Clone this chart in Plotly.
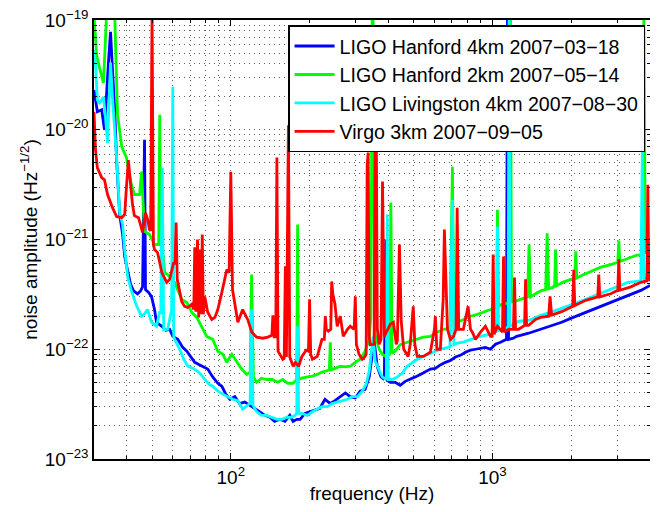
import math
import plotly.graph_objects as go

# ---------------- data (frequency in Hz, amplitude in Hz^-1/2) ----------------
h1_freq = [30.0, 30.9, 32.1, 32.9, 34.1, 34.7, 35.3, 36.0, 36.6, 37.6, 38.6, 39.3, 40.4, 41.4, 42.5,
           44.0, 45.2, 46.0, 46.8, 47.2, 48.5, 49.8, 51.1, 52.0, 54.5, 56.4, 58.4, 60.0, 62.7, 65.5,
           67.9, 70.3, 72.8, 76.1, 78.8, 81.6, 85.3, 89.2, 92.4, 95.7, 99.1, 103.6, 108, 113, 118,
           123, 129, 135, 141, 147, 154, 161, 168, 173, 179, 184, 192, 201, 210, 219, 229, 240, 250,
           262, 274, 286, 299, 312, 326, 338, 347, 353, 363, 375, 386, 391, 396, 407, 425, 444, 464,
           485, 507, 530, 554, 579, 605, 632, 661, 691, 722, 754, 788, 824, 861, 900, 940, 983, 1027,
           1073, 1131, 1141, 1152, 1203, 1236, 1280, 1374, 1528, 1668, 1838, 1991, 2174, 2481, 2832,
           3291, 3690, 4000]
h1_amp = [2.3e-20, 1.46e-20, 1.52e-20, 1.0e-20, 4.3e-20, 7.8e-20, 3.5e-20, 1.52e-20, 5.3e-21, 1.69e-21,
          1.11e-21, 7.0e-22, 5.1e-22, 3.9e-22, 3.4e-22, 3.2e-22, 3.4e-22, 3.7e-22, 8.1e-21, 3.5e-22,
          3.3e-22, 3.0e-22, 2.3e-22, 1.76e-22, 1.62e-22, 1.49e-22, 1.52e-22, 1.31e-22, 1.23e-22, 1.04e-22,
          9.6e-23, 8.6e-23, 7.6e-23, 7.2e-23, 6.9e-23, 6.6e-23, 5.6e-23, 4.9e-23, 4.6e-23, 3.9e-23,
          3.5e-23, 3.7e-23, 3.2e-23, 3.3e-23, 3.1e-23, 2.9e-23, 2.7e-23, 2.5e-23, 2.4e-23, 2.2e-23,
          2.3e-23, 2.2e-23, 2.5e-23, 2.2e-23, 2.3e-23, 2.3e-23, 2.6e-23, 2.7e-23, 2.8e-23, 2.9e-23,
          3.5e-23, 3.2e-23, 3.4e-23, 3.7e-23, 4.0e-23, 3.7e-23, 3.6e-23, 4.15e-23, 4.3e-23, 5.6e-23,
          8.5e-23, 1.19e-22, 6.9e-23, 5.6e-23, 5.3e-23, 1.0e-21, 5.2e-23, 5.0e-23, 5.0e-23, 4.7e-23,
          5.1e-23, 5.3e-23, 5.6e-23, 5.9e-23, 6.2e-23, 6.6e-23, 6.7e-23, 7.2e-23, 7.6e-23, 7.9e-23,
          8.5e-23, 8.8e-23, 9.4e-23, 9.8e-23, 1.0e-22, 1.02e-22, 1.04e-22, 1.0e-22, 1.11e-22, 1.16e-22,
          1.23e-22, 1.0e-19, 1.23e-22, 1.26e-22, 1.31e-22, 1.34e-22, 1.40e-22, 1.52e-22, 1.62e-22,
          1.76e-22, 1.91e-22, 2.08e-22, 2.36e-22, 2.67e-22, 3.1e-22, 3.44e-22, 3.82e-22]

h2_freq = [30.0, 30.7, 31.5, 32.6, 33.5, 36.0, 36.9, 38.3, 39.9, 41.7, 42.8, 44.8, 45.6, 46.2, 46.8,
           48.9, 51.1, 53.0, 53.5, 54.0, 54.9, 55.9, 58.4, 61.0, 62.7, 64.9, 67.9, 70.9, 74.1, 77.4,
           80.9, 85.3, 89.2, 93.2, 96.5, 100.9, 105.4, 110, 115, 118.6, 120, 122, 125.5, 131, 137,
           144, 151, 158, 165, 173, 178.5, 180, 181.6, 187, 196, 205, 214, 223, 234, 238, 240, 242,
           250, 262, 274, 286, 299, 312, 326, 338, 343, 347, 350, 355, 369, 379, 393, 405, 409, 413,
           425, 444, 464, 485, 516, 544, 579, 613, 649, 688, 703, 712, 734, 774, 824, 877, 916, 983,
           1036, 1045, 1054, 1083, 1162, 1172, 1182, 1225, 1280, 1361, 1380, 1398, 1461, 1528, 1597,
           1618, 1640, 1698, 1728, 1743, 1759, 1855, 1991, 2063, 2081, 2099, 2193, 2374, 2594, 2832,
           3013, 3040, 3067, 3233, 3531, 3740, 3789, 3839, 3960, 4000]
h2_amp = [1.1e-19, 4.8e-20, 3.66e-20, 2.67e-20, 1.1e-19, 1.1e-19, 1.37e-20, 7.0e-21, 5.6e-21, 3.16e-21,
          2.57e-21, 2.57e-21, 4.15e-21, 2.2e-21, 1.19e-21, 1.11e-21, 9.0e-22, 9.0e-22, 1.37e-20, 8.8e-22,
          7.8e-22, 5.0e-22, 4.6e-22, 4.07e-22, 3.5e-22, 2.85e-22, 2.67e-22, 2.17e-22, 1.95e-22, 1.62e-22,
          1.31e-22, 1.23e-22, 9.6e-23, 9.0e-23, 7.6e-23, 9.0e-23, 7.6e-23, 6.6e-23, 5.9e-23, 6.2e-23,
          4.8e-22, 5.6e-23, 5.0e-23, 5.45e-23, 5.3e-23, 5.3e-23, 5.0e-23, 5.3e-23, 4.9e-23, 4.9e-23,
          5.3e-23, 1.37e-21, 5.3e-23, 5.45e-23, 5.6e-23, 5.7e-23, 5.9e-23, 6.2e-23, 6.4e-23, 6.5e-23,
          1.16e-22, 6.5e-23, 6.7e-23, 7.0e-23, 6.9e-23, 7.0e-23, 7.6e-23, 8.1e-23, 9.6e-23, 1.23e-22,
          2.0e-22, 1.0e-19, 1.0e-19, 1.4e-22, 1.0e-22, 9.0e-23, 8.5e-23, 9.0e-23, 2.17e-21, 9.2e-23,
          9.6e-23, 1.1e-22, 1.14e-22, 1.18e-22, 1.23e-22, 1.29e-22, 1.31e-22, 1.43e-22, 1.52e-22, 1.55e-22,
          4.6e-21, 1.6e-22, 1.76e-22, 1.87e-22, 2.0e-22, 2.08e-22, 2.17e-22, 2.3e-22, 2.4e-22, 1.87e-21,
          2.45e-22, 2.57e-22, 2.65e-22, 1.0e-19, 2.7e-22, 2.73e-22, 2.85e-22, 3.0e-22, 9.0e-22, 3.0e-22,
          3.2e-22, 3.4e-22, 3.5e-22, 1.14e-21, 3.55e-22, 3.66e-22, 3.8e-22, 8.1e-22, 3.8e-22, 4.07e-22,
          4.33e-22, 4.4e-22, 7.8e-22, 4.45e-22, 4.7e-22, 5.1e-22, 5.6e-22, 5.9e-22, 6.2e-22, 9.8e-22,
          6.3e-22, 6.6e-22, 7.15e-22, 7.3e-22, 1.1e-19, 7.5e-22, 7.9e-22, 8.1e-22]

l1_freq = [30.0, 30.4, 30.9, 31.5, 32.1, 32.6, 33.2, 33.8, 34.7, 35.3, 36.6, 37.6, 38.6, 39.3, 40.4,
           41.7, 43.6, 45.6, 46.8, 48.0, 49.8, 52.0, 53.5, 54.0, 54.7, 55.4, 57.4, 59.4, 60.0, 60.5,
           61.0, 63.8, 66.1, 68.5, 71.6, 74.1, 76.8, 79.5, 82.4, 85.3, 89.2, 93.2, 97.4, 101.8, 106.4,
           111, 116, 118.5, 120, 121.5, 125.5, 131, 137, 144, 150, 157, 164, 171, 176, 178.5, 180,
           181.6, 187, 196, 205, 214, 223, 234, 244, 255, 267, 279, 291, 305, 318, 329, 338, 344, 350,
           356, 369, 379, 393, 396, 400, 414, 433, 452, 472, 494, 516, 544, 579, 632, 688, 703, 712,
           734, 774, 824, 877, 932, 983, 1036, 1045, 1054, 1092, 1147, 1157, 1167, 1203, 1258, 1374,
           1528, 1668, 1838, 1991, 2174, 2481, 2832, 3291, 3690, 3740, 3789, 3960, 4000]
l1_amp = [5.3e-20, 3.9e-20, 1.87e-20, 1.76e-20, 1.87e-20, 1.99e-20, 1.29e-20, 7.6e-21, 4.1e-20, 1.95e-20,
          5.6e-21, 1.76e-21, 1.37e-21, 8.1e-22, 4.5e-22, 3.4e-22, 2.5e-22, 2.0e-22, 2.1e-22, 2.3e-22,
          1.76e-22, 1.62e-22, 2.2e-22, 2.1e-22, 4.5e-21, 1.5e-22, 1.52e-22, 2.3e-22, 2.46e-20, 1.3e-22,
          1.23e-22, 1.0e-22, 8.1e-23, 7.0e-23, 6.7e-23, 6.4e-23, 5.9e-23, 5.3e-23, 4.8e-23, 4.6e-23,
          4.15e-23, 3.9e-23, 3.7e-23, 3.5e-23, 3.4e-23, 2.85e-23, 3.1e-23, 3.2e-23, 2.3e-22, 3.1e-23,
          2.7e-23, 2.5e-23, 2.5e-23, 2.4e-23, 2.3e-23, 2.3e-23, 2.4e-23, 2.4e-23, 2.5e-23, 2.6e-23,
          1.62e-22, 2.6e-23, 2.6e-23, 2.5e-23, 2.7e-23, 2.85e-23, 3.0e-23, 3.0e-23, 3.2e-23, 3.3e-23,
          3.4e-23, 3.5e-23, 3.7e-23, 3.7e-23, 4.15e-23, 4.8e-23, 6.3e-23, 9.0e-23, 1.31e-22, 7.8e-23,
          6.3e-23, 5.6e-23, 5.3e-23, 1.69e-21, 5.3e-23, 5.3e-23, 5.6e-23, 6.05e-23, 7.0e-23, 7.5e-23,
          8.1e-23, 8.6e-23, 9.2e-23, 1.0e-22, 1.05e-22, 2.3e-21, 1.1e-22, 1.14e-22, 1.16e-22, 1.23e-22,
          1.29e-22, 1.34e-22, 1.37e-22, 1.45e-22, 1.31e-21, 1.48e-22, 1.52e-22, 1.59e-22, 1.0e-19, 1.6e-22,
          1.69e-22, 1.80e-22, 1.83e-22, 2.04e-22, 2.17e-22, 2.36e-22, 2.5e-22, 2.73e-22, 3.1e-22, 3.5e-22,
          4.07e-22, 4.2e-22, 6.6e-21, 4.3e-22, 4.7e-22, 4.7e-22]

v1_freq = [30.0, 30.4, 30.9, 32.1, 32.9, 33.8, 35.3, 36.6, 38.3, 39.3, 39.9, 40.6, 41.4, 42.1, 42.8,
           44.4, 46.0, 47.2, 48.0, 48.9, 49.4, 50.0, 50.6, 51.1, 52.5, 54.5, 56.9, 58.4, 60.5, 61.2,
           61.8, 62.4, 64.9, 66.6, 68.5, 70.9, 72.2, 72.8, 73.5, 74.6, 75.4, 76.4, 77.1, 77.8, 78.5,
           79.5, 81.6, 84.6, 86.9, 89.2, 92.4, 96.5, 98.5, 100, 101.5, 106.4, 111, 116, 120.3, 125.5,
           132.5, 138.5, 143.5, 144.8, 146.5, 148.5, 150, 151.5, 158, 160, 161.6, 163.1, 166, 168, 173,
           176.5, 181.6, 187, 194, 198, 200, 202, 205, 214, 223, 227.7, 229.7, 231.7, 235.8, 241, 243,
           245.5, 250, 255, 262, 269, 279, 286, 296, 299, 302, 309, 318, 326, 329, 332, 335, 338, 341,
           353, 356, 360, 363, 369, 375, 380, 386, 393, 407, 418, 429, 433, 441, 448, 458, 476, 485,
           498, 505, 516, 544, 579, 600, 605, 613, 632, 648, 655, 664, 673, 691, 709, 726, 733, 743,
           774, 807, 824, 838, 861, 900, 940, 983, 997, 1006, 1015, 1045, 1092, 1102, 1111, 1152, 1203,
           1214, 1225, 1258, 1327, 1338, 1350, 1374, 1461, 1528, 1640, 1660, 1683, 1838, 2026, 2044,
           2063, 2271, 2526, 2548, 2571, 2832, 3013, 3040, 3067, 3379, 3690, 3891, 3925, 3960, 4000]
v1_amp = [1.46e-20, 6.6e-21, 4.5e-21, 3.66e-21, 3.5e-21, 2.57e-21, 1.95e-21, 1.62e-21, 1.58e-21, 1.69e-21,
          2.97e-21, 5.3e-21, 3.16e-21, 2.08e-21, 1.65e-21, 1.58e-21, 1.16e-21, 1.75e-21, 1.55e-21, 1.23e-21,
          1.2e-21, 1.2e-19, 9.0e-22, 8.1e-22, 7.6e-22, 5.0e-22, 4.07e-22, 4.33e-22, 6.2e-22, 6.0e-22,
          1.43e-21, 4.33e-22, 2.73e-22, 2.46e-22, 2.4e-22, 2.57e-22, 2.3e-22, 8.5e-22, 2.2e-22, 1.0e-21,
          1.95e-22, 8.1e-22, 2.08e-22, 1.11e-21, 2.08e-22, 3.03e-22, 2.17e-22, 1.87e-22, 1.95e-22, 2.3e-22,
          3.3e-22, 5.3e-22, 5.0e-22, 4.15e-21, 3.5e-22, 1.76e-22, 2.3e-22, 1.87e-22, 1.43e-22, 1.29e-22,
          1.26e-22, 1.29e-22, 1.34e-22, 2.04e-22, 1.3e-22, 1.3e-22, 5.6e-21, 9.6e-23, 8.1e-23, 8.3e-23,
          5.7e-22, 8.5e-23, 1.1e-20, 8.5e-23, 7.0e-23, 7.6e-23, 7.0e-23, 8.6e-23, 9.8e-23, 9.6e-23,
          2.85e-22, 9.0e-23, 8.1e-23, 8.6e-23, 1.23e-22, 1.23e-22, 2.0e-22, 1.52e-22, 1.46e-22, 1.52e-22,
          4.15e-22, 3.16e-22, 2.6e-22, 1.62e-22, 2.0e-22, 1.31e-22, 1.52e-22, 1.62e-22, 1.52e-22, 3.03e-22,
          1.11e-22, 9.0e-23, 8.1e-23, 8.6e-23, 9.0e-23, 4.8e-21, 6.2e-21, 1.3e-22, 1.1e-22, 1.11e-22,
          6.6e-21, 7.3e-21, 1.52e-22, 1.11e-22, 1.23e-22, 3.37e-21, 1.31e-22, 1.43e-22, 1.69e-22, 1.76e-22,
          1.11e-22, 1.2e-22, 9.0e-22, 1.8e-22, 1.0e-22, 8.6e-23, 1.11e-22, 2.46e-22, 1.11e-22, 8.6e-23,
          8.6e-23, 9.4e-23, 1.52e-22, 2.0e-22, 1.0e-22, 1.0e-22, 2.85e-22, 1.23e-21, 4.3e-22, 1.52e-22,
          1.23e-22, 1.3e-22, 1.52e-22, 1.95e-21, 1.52e-22, 1.52e-22, 2.46e-22, 1.52e-22, 1.43e-22, 1.23e-22,
          1.43e-22, 1.62e-22, 1.31e-22, 1.31e-22, 7.3e-22, 1.37e-22, 1.62e-22, 1.43e-22, 7.0e-22, 1.43e-22,
          1.52e-22, 1.52e-22, 4.5e-22, 1.52e-22, 1.52e-22, 1.65e-22, 4.33e-22, 1.65e-22, 1.65e-22, 1.87e-22,
          1.95e-22, 2.0e-22, 3.03e-22, 2.05e-22, 2.2e-22, 2.46e-22, 5.3e-22, 2.5e-22, 2.79e-22, 3.0e-22,
          4.8e-22, 3.0e-22, 3.2e-22, 3.44e-22, 6.6e-22, 3.45e-22, 3.7e-22, 4.07e-22, 4.2e-22, 3.16e-21,
          4.25e-22, 4.33e-22]

series_names = ["LIGO Hanford 4km 2007\u221203\u221218",
                "LIGO Hanford 2km 2007\u221205\u221214",
                "LIGO Livingston 4km 2007\u221208\u221230",
                "Virgo 3km 2007\u221209\u221205"]
series_colors = ["#0000ff", "#00ff00", "#00ffff", "#ff0000"]

x_major = [100, 1000]
x_major_text = ["10<sup>2</sup>", "10<sup>3</sup>"]
x_minor = [30, 40, 50, 60, 70, 80, 90, 200, 300, 400, 500, 600, 700, 800, 900, 2000, 3000, 4000]
y_major = [1e-23, 1e-22, 1e-21, 1e-20, 1e-19]
y_major_text = ["10<sup>\u221223</sup>", "10<sup>\u221222</sup>", "10<sup>\u221221</sup>",
                "10<sup>\u221220</sup>", "10<sup>\u221219</sup>"]
y_minor = [m * 10.0 ** e for e in (-23, -22, -21, -20) for m in range(2, 10)]

x_limits = [30, 4000]
y_limits = [1e-23, 1e-19]

# ---------------- figure ----------------
# (the page body keeps its default 8 px margin, so the figure is 8 px smaller
#  than the window in each direction and the margins are reduced accordingly)
FONT = "Liberation Sans, Arial, Helvetica, sans-serif"
fig = go.Figure()
for xs, ys, name, col in zip([h1_freq, h2_freq, l1_freq, v1_freq],
                             [h1_amp, h2_amp, l1_amp, v1_amp],
                             series_names, series_colors):
    fig.add_trace(go.Scatter(x=xs, y=ys, mode="lines", name=name,
                             line=dict(color=col, width=2.8), hoverinfo="skip"))

grid = dict(showgrid=True, gridcolor="#606060", griddash="1px,4px", gridwidth=1)
axis_common = dict(type="log", showline=True, linecolor="black", linewidth=1.5, mirror="ticks",
                   ticks="inside", ticklen=6, tickwidth=1, tickcolor="black", automargin=False,
                   ticklabeloverflow="allow",
                   tickfont=dict(family=FONT, size=19, color="black"), zeroline=False, **grid)

fig.update_layout(
    width=650, height=504, autosize=False,
    margin=dict(l=86, r=8, t=12, b=53),
    paper_bgcolor="white", plot_bgcolor="white",
    font=dict(family=FONT, size=19, color="black"),
    xaxis=dict(range=[math.log10(x_limits[0]), math.log10(x_limits[1])],
               tickmode="array", tickvals=x_major, ticktext=x_major_text,
               minor=dict(tickmode="array", tickvals=x_minor, ticks="inside", ticklen=3,
                          tickcolor="black", **grid),
               title=dict(text="frequency (Hz)", font=dict(family=FONT, size=19), standoff=0),
               **axis_common),
    yaxis=dict(range=[math.log10(y_limits[0]), math.log10(y_limits[1])],
               tickmode="array", tickvals=y_major, ticktext=y_major_text,
               minor=dict(tickmode="array", tickvals=y_minor, ticks="inside", ticklen=3,
                          tickcolor="black", **grid),
               title=dict(text="noise amplitude (Hz<sup>\u22121/2</sup>)",
                          font=dict(family=FONT, size=19), standoff=2),
               **axis_common),
    legend=dict(x=0.349, y=0.988, xanchor="left", yanchor="top", bgcolor="white",
                bordercolor="black", borderwidth=1.5, itemwidth=40,
                font=dict(family=FONT, size=19.6, color="black"), tracegroupgap=0),
    showlegend=True,
)

fig.write_html("out.html")
